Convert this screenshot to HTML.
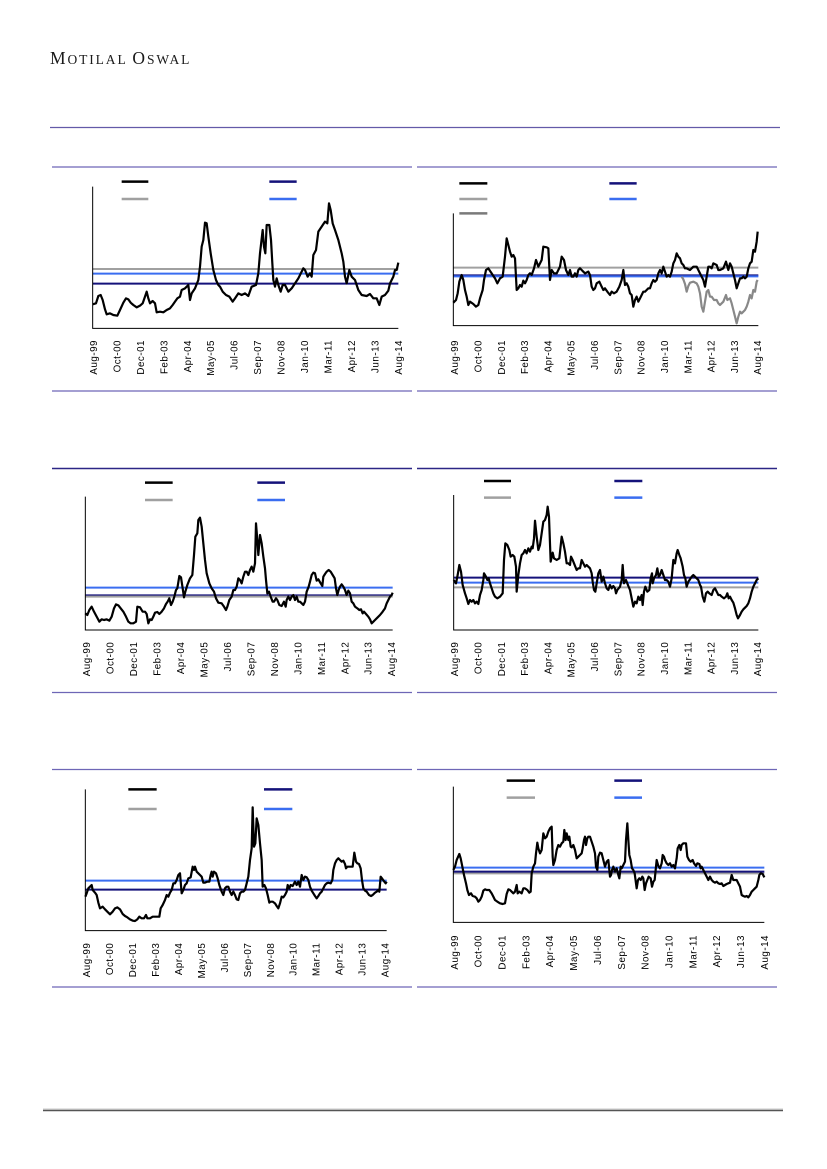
<!DOCTYPE html>
<html>
<head>
<meta charset="utf-8">
<style>
  html,body{margin:0;padding:0;background:#fff;}
  svg{display:block;}
  .lbl{font-family:"Liberation Sans",Arial,sans-serif;font-size:9.8px;letter-spacing:0.5px;fill:#000;}
  .ser{fill:none;stroke:#000;stroke-width:2.2;stroke-linejoin:round;}
  .ax{stroke:#000;stroke-width:1;fill:none;}
</style>
</head>
<body>
<svg width="827" height="1169" viewBox="0 0 827 1169" xmlns="http://www.w3.org/2000/svg">
  <rect x="0" y="0" width="827" height="1169" fill="#fff"/>

  <!-- Title -->
  <text x="50" y="64" font-family="'Liberation Serif','Times New Roman',serif" fill="#1a1a1a" letter-spacing="1.9"><tspan font-size="17.5">M</tspan><tspan font-size="13.5">OTILAL </tspan><tspan font-size="17.5">O</tspan><tspan font-size="13.5">SWAL</tspan></text>

  <!-- Section lines -->
  <line x1="50" y1="127.5" x2="780" y2="127.5" stroke="#635aa8" stroke-width="1.3"/>
  <g stroke="#6e66b6" stroke-width="1.3">
    <line x1="52" y1="167" x2="412" y2="167"/><line x1="417" y1="167" x2="777" y2="167"/>
    <line x1="52" y1="391" x2="412" y2="391"/><line x1="417" y1="391" x2="777" y2="391"/>
    <line x1="52" y1="692.5" x2="412" y2="692.5"/><line x1="417" y1="692.5" x2="777" y2="692.5"/>
    <line x1="52" y1="769.5" x2="412" y2="769.5"/><line x1="417" y1="769.5" x2="777" y2="769.5"/>
    <line x1="52" y1="987" x2="412" y2="987"/><line x1="417" y1="987" x2="777" y2="987"/>
  </g>
  <g stroke="#2c2686" stroke-width="1.4">
    <line x1="52" y1="468.5" x2="412" y2="468.5"/><line x1="417" y1="468.5" x2="777" y2="468.5"/>
  </g>
  <line x1="43" y1="1109" x2="783" y2="1109" stroke="#c8c8c8" stroke-width="1"/>
  <line x1="43" y1="1110.5" x2="783" y2="1110.5" stroke="#555" stroke-width="1.5"/>

  <!-- ================= CHART 1 ================= -->
  <g transform="translate(40 170) scale(0.333333)">
    <line x1="158" y1="297" x2="1075" y2="297" stroke="#a0a0a0" stroke-width="2" vector-effect="non-scaling-stroke"/>
    <line x1="158" y1="311" x2="1075" y2="311" stroke="#3a6df0" stroke-width="2" vector-effect="non-scaling-stroke"/>
    <line x1="158" y1="341" x2="1075" y2="341" stroke="#14127a" stroke-width="2" vector-effect="non-scaling-stroke"/>
    <polyline class="ser" vector-effect="non-scaling-stroke" points="158,403 168,400 175,378 182,375 188,390 195,418 200,433 210,430 220,435 232,437 240,420 250,398 258,385 265,388 272,398 280,405 290,412 300,407 308,400 315,380 320,365 325,385 330,400 338,393 345,400 350,427 360,425 370,427 380,420 390,415 398,405 405,395 412,385 420,380 425,360 435,355 445,345 450,390 455,370 465,355 475,330 480,290 485,230 490,210 495,158 500,160 505,200 512,250 520,300 528,330 535,345 540,350 548,365 558,375 568,380 578,395 585,385 595,370 605,375 615,370 625,378 635,350 648,345 655,310 660,250 668,180 672,230 676,250 680,165 688,165 693,210 697,280 700,330 705,350 710,325 715,345 722,365 728,345 735,345 745,365 755,355 765,340 775,325 785,305 790,295 795,300 803,320 810,310 815,320 820,255 828,240 835,185 845,170 855,155 862,160 867,100 872,120 878,160 885,180 895,210 905,250 910,275 915,320 920,340 928,300 935,320 945,330 955,360 965,375 980,378 990,372 1000,385 1010,385 1018,405 1025,380 1035,375 1045,362 1050,340 1060,320 1065,300 1070,300 1075,278"/>
    <polyline class="ax" vector-effect="non-scaling-stroke" points="158,50 158,475 1075,475"/>
    <line x1="245" y1="35" x2="325" y2="35" stroke="#000" stroke-width="2.5" vector-effect="non-scaling-stroke"/>
    <line x1="245" y1="87" x2="325" y2="87" stroke="#a0a0a0" stroke-width="2.5" vector-effect="non-scaling-stroke"/>
    <line x1="688" y1="35" x2="770" y2="35" stroke="#14127a" stroke-width="2.5" vector-effect="non-scaling-stroke"/>
    <line x1="688" y1="87" x2="770" y2="87" stroke="#3a6df0" stroke-width="2.5" vector-effect="non-scaling-stroke"/>
  </g>
  <g class="lbl" transform="translate(0 340) rotate(-90)" text-anchor="end">
    <text x="0" y="97">Aug-99</text><text x="0" y="120.4">Oct-00</text><text x="0" y="143.9">Dec-01</text><text x="0" y="167.3">Feb-03</text><text x="0" y="190.8">Apr-04</text><text x="0" y="214.2">May-05</text><text x="0" y="237.7">Jul-06</text><text x="0" y="261.1">Sep-07</text><text x="0" y="284.6">Nov-08</text><text x="0" y="308">Jan-10</text><text x="0" y="331.4">Mar-11</text><text x="0" y="354.9">Apr-12</text><text x="0" y="378.3">Jun-13</text><text x="0" y="401.8">Aug-14</text>
  </g>

  <!-- ================= CHART 2 ================= -->
  <g transform="translate(410 160) scale(0.333333)">
    <line x1="130" y1="323" x2="1045" y2="323" stroke="#a0a0a0" stroke-width="2" vector-effect="non-scaling-stroke"/>
    <line x1="130" y1="346" x2="1045" y2="346" stroke="#14127a" stroke-width="2" vector-effect="non-scaling-stroke"/>
    <line x1="130" y1="349" x2="1045" y2="349" stroke="#3a6df0" stroke-width="2" vector-effect="non-scaling-stroke"/>
    <polyline class="ser" style="stroke:#888" vector-effect="non-scaling-stroke" points="815,350 820,358 825,372 830,395 835,378 840,368 850,365 860,370 865,380 870,400 875,440 880,455 885,425 890,395 895,390 900,410 905,410 912,420 920,420 925,430 930,435 935,430 940,425 948,405 952,420 960,415 965,430 970,450 975,470 980,490 985,470 990,455 995,460 1000,455 1005,450 1010,440 1015,425 1020,405 1025,415 1030,390 1035,395 1040,365 1043,360"/>
    <polyline class="ser" vector-effect="non-scaling-stroke" points="130,428 138,420 143,400 148,365 155,345 160,360 165,390 170,410 175,435 180,425 190,432 198,440 205,435 210,415 218,390 222,360 228,330 235,325 245,340 255,355 262,370 270,355 278,350 285,290 290,235 295,255 300,275 305,290 310,285 315,295 320,390 325,385 330,375 335,380 340,362 345,370 350,360 355,345 360,340 365,345 372,325 378,300 385,320 390,310 395,300 400,260 410,262 415,265 420,360 425,330 432,340 440,340 450,320 455,290 462,300 468,330 475,345 480,330 485,350 490,350 495,340 500,350 505,330 510,325 515,330 520,335 525,340 535,335 540,345 545,380 550,390 555,385 560,370 568,365 575,380 580,390 585,385 592,395 600,405 605,395 612,400 620,395 628,380 635,360 640,330 645,375 650,370 655,380 660,400 665,405 670,440 675,420 680,410 685,425 690,415 695,405 700,395 705,395 710,390 715,385 720,385 725,370 730,360 735,365 740,360 745,340 750,330 755,340 760,320 765,335 770,350 775,345 780,350 785,335 790,310 795,300 800,280 805,290 810,295 815,310 820,315 825,325 830,325 840,330 850,320 860,320 865,330 870,340 875,350 880,360 885,380 890,350 895,320 900,320 905,325 910,310 920,315 925,330 930,330 940,325 948,305 955,330 960,310 965,320 970,340 975,360 980,385 985,370 990,355 995,355 1000,350 1005,355 1010,350 1015,325 1020,310 1025,305 1030,270 1035,275 1040,245 1043,215"/>
    <polyline class="ax" vector-effect="non-scaling-stroke" points="130,160 130,497 1045,497"/>
    <line x1="148" y1="70" x2="232" y2="70" stroke="#000" stroke-width="2.5" vector-effect="non-scaling-stroke"/>
    <line x1="148" y1="117" x2="232" y2="117" stroke="#a0a0a0" stroke-width="2.5" vector-effect="non-scaling-stroke"/>
    <line x1="148" y1="160" x2="232" y2="160" stroke="#7a7a7a" stroke-width="2.5" vector-effect="non-scaling-stroke"/>
    <line x1="598" y1="70" x2="680" y2="70" stroke="#14127a" stroke-width="2.5" vector-effect="non-scaling-stroke"/>
    <line x1="598" y1="117" x2="680" y2="117" stroke="#3a6df0" stroke-width="2.5" vector-effect="non-scaling-stroke"/>
  </g>
  <g class="lbl" transform="translate(0 340) rotate(-90)" text-anchor="end">
    <text x="0" y="458.2">Aug-99</text><text x="0" y="481.5">Oct-00</text><text x="0" y="504.8">Dec-01</text><text x="0" y="528.1">Feb-03</text><text x="0" y="551.4">Apr-04</text><text x="0" y="574.7">May-05</text><text x="0" y="598">Jul-06</text><text x="0" y="621.4">Sep-07</text><text x="0" y="644.7">Nov-08</text><text x="0" y="668">Jan-10</text><text x="0" y="691.3">Mar-11</text><text x="0" y="714.6">Apr-12</text><text x="0" y="737.9">Jun-13</text><text x="0" y="761.2">Aug-14</text>
  </g>

  <!-- ================= CHART 3 ================= -->
  <g transform="translate(40 460) scale(0.333333)">
    <line x1="136" y1="406" x2="1058" y2="406" stroke="#14127a" stroke-width="2" vector-effect="non-scaling-stroke"/>
    <line x1="136" y1="410" x2="1058" y2="410" stroke="#a0a0a0" stroke-width="2" vector-effect="non-scaling-stroke"/>
    <line x1="136" y1="383" x2="1058" y2="383" stroke="#3a6df0" stroke-width="2" vector-effect="non-scaling-stroke"/>
    <polyline class="ser" vector-effect="non-scaling-stroke" points="136,460 142,465 148,450 155,440 162,455 170,470 178,485 185,478 192,480 200,478 208,482 215,470 222,445 228,433 235,436 242,445 250,455 258,470 265,485 272,490 280,490 288,485 292,440 300,442 308,455 315,455 320,462 325,490 330,478 335,480 340,470 345,458 352,456 358,462 365,455 372,445 378,432 383,425 388,415 393,435 398,425 403,410 408,390 412,385 418,348 423,352 428,385 432,412 436,395 442,375 450,355 457,345 462,285 466,230 472,220 475,180 480,173 485,200 490,250 495,300 500,340 508,370 515,385 522,395 528,415 535,428 545,430 552,440 558,450 562,440 568,420 575,410 580,390 585,390 590,380 595,355 600,360 605,370 610,350 615,335 620,335 625,345 630,330 635,320 640,335 645,310 648,190 652,240 655,285 660,225 665,250 670,290 675,325 678,360 682,400 687,395 692,410 698,425 702,425 708,415 712,420 718,435 725,438 732,425 737,440 740,420 745,410 750,420 755,410 760,405 765,420 770,410 775,425 780,425 785,430 790,435 795,425 800,395 806,380 810,365 815,345 820,338 825,340 830,362 835,358 842,370 847,378 850,350 855,342 860,335 866,330 872,335 878,345 884,355 888,385 892,405 896,390 900,380 905,373 910,380 915,390 920,405 925,392 930,400 935,425 940,430 945,440 952,445 958,450 963,448 968,460 972,455 978,462 985,470 990,478 995,490 1000,485 1005,480 1012,473 1020,465 1028,455 1035,445 1040,430 1045,420 1050,410 1055,405 1058,398"/>
    <polyline class="ax" vector-effect="non-scaling-stroke" points="136,110 136,510 1058,510"/>
    <line x1="315" y1="68" x2="398" y2="68" stroke="#000" stroke-width="2.5" vector-effect="non-scaling-stroke"/>
    <line x1="315" y1="120" x2="398" y2="120" stroke="#a0a0a0" stroke-width="2.5" vector-effect="non-scaling-stroke"/>
    <line x1="652" y1="68" x2="735" y2="68" stroke="#14127a" stroke-width="2.5" vector-effect="non-scaling-stroke"/>
    <line x1="652" y1="120" x2="735" y2="120" stroke="#3a6df0" stroke-width="2.5" vector-effect="non-scaling-stroke"/>
  </g>
  <g class="lbl" transform="translate(0 641.7) rotate(-90)" text-anchor="end">
    <text x="0" y="90.2">Aug-99</text><text x="0" y="113.7">Oct-00</text><text x="0" y="137.1">Dec-01</text><text x="0" y="160.6">Feb-03</text><text x="0" y="184">Apr-04</text><text x="0" y="207.5">May-05</text><text x="0" y="231">Jul-06</text><text x="0" y="254.4">Sep-07</text><text x="0" y="277.9">Nov-08</text><text x="0" y="301.3">Jan-10</text><text x="0" y="324.8">Mar-11</text><text x="0" y="348.3">Apr-12</text><text x="0" y="371.7">Jun-13</text><text x="0" y="395.2">Aug-14</text>
  </g>

  <!-- ================= CHART 4 ================= -->
  <g transform="translate(410 460) scale(0.333333)">
    <line x1="131" y1="382" x2="1045" y2="382" stroke="#a0a0a0" stroke-width="2" vector-effect="non-scaling-stroke"/>
    <line x1="131" y1="368" x2="1045" y2="368" stroke="#3a6df0" stroke-width="2" vector-effect="non-scaling-stroke"/>
    <line x1="131" y1="353" x2="1045" y2="353" stroke="#14127a" stroke-width="2" vector-effect="non-scaling-stroke"/>
    <polyline class="ser" vector-effect="non-scaling-stroke" points="131,360 138,370 143,345 148,315 153,335 158,375 165,400 170,415 175,432 180,420 185,425 190,420 195,430 200,425 205,432 210,405 215,390 220,360 222,340 228,350 232,360 236,355 240,370 245,385 250,400 255,410 262,415 270,410 278,400 282,300 286,250 292,255 298,270 302,290 308,285 313,290 318,320 320,395 325,345 330,310 335,285 340,280 345,270 350,280 355,265 360,275 365,260 368,265 372,235 375,182 380,230 385,270 390,255 395,220 400,185 405,180 410,165 413,140 417,170 422,305 428,278 432,295 440,300 448,295 455,230 460,250 465,275 470,310 475,310 480,315 483,290 488,300 492,310 496,320 500,330 505,325 510,325 515,300 520,310 525,320 530,315 535,320 540,325 545,340 548,365 552,390 556,395 560,370 565,340 570,330 575,365 580,350 585,370 590,385 595,390 600,375 605,385 610,378 615,385 618,400 622,390 626,385 630,380 635,360 638,315 642,370 648,360 655,378 660,390 665,415 670,440 675,425 680,430 685,410 690,420 695,405 698,435 702,395 706,380 712,395 718,390 722,355 726,340 728,370 732,355 738,345 742,325 746,350 750,345 755,330 760,345 765,360 770,360 775,365 780,380 785,355 790,300 795,310 800,280 803,270 808,285 812,295 818,320 822,345 826,355 830,380 835,365 840,358 845,350 850,345 855,350 860,355 865,360 870,375 873,380 878,410 883,425 888,400 893,395 898,400 905,405 910,390 915,385 920,395 925,405 930,405 935,410 942,415 948,410 952,400 956,415 960,410 965,420 970,428 975,445 980,465 984,475 990,465 995,455 1000,448 1005,443 1010,438 1015,430 1020,415 1025,395 1030,380 1035,370 1040,360 1045,355"/>
    <polyline class="ax" vector-effect="non-scaling-stroke" points="131,105 131,510 1045,510"/>
    <line x1="222" y1="63" x2="303" y2="63" stroke="#000" stroke-width="2.5" vector-effect="non-scaling-stroke"/>
    <line x1="222" y1="113" x2="303" y2="113" stroke="#a0a0a0" stroke-width="2.5" vector-effect="non-scaling-stroke"/>
    <line x1="613" y1="63" x2="697" y2="63" stroke="#14127a" stroke-width="2.5" vector-effect="non-scaling-stroke"/>
    <line x1="613" y1="113" x2="697" y2="113" stroke="#3a6df0" stroke-width="2.5" vector-effect="non-scaling-stroke"/>
  </g>
  <g class="lbl" transform="translate(0 641.7) rotate(-90)" text-anchor="end">
    <text x="0" y="458.2">Aug-99</text><text x="0" y="481.5">Oct-00</text><text x="0" y="504.8">Dec-01</text><text x="0" y="528.1">Feb-03</text><text x="0" y="551.4">Apr-04</text><text x="0" y="574.7">May-05</text><text x="0" y="598">Jul-06</text><text x="0" y="621.4">Sep-07</text><text x="0" y="644.7">Nov-08</text><text x="0" y="668">Jan-10</text><text x="0" y="691.3">Mar-11</text><text x="0" y="714.6">Apr-12</text><text x="0" y="737.9">Jun-13</text><text x="0" y="761.2">Aug-14</text>
  </g>

  <!-- ================= CHART 5 ================= -->
  <g transform="translate(40 760) scale(0.333333)">
    <line x1="136" y1="389" x2="1040" y2="389" stroke="#14127a" stroke-width="2" vector-effect="non-scaling-stroke"/>
    <line x1="136" y1="362" x2="1040" y2="362" stroke="#3a6df0" stroke-width="2" vector-effect="non-scaling-stroke"/>
    <polyline class="ser" vector-effect="non-scaling-stroke" points="136,410 140,400 145,385 150,380 155,375 158,390 165,398 170,405 175,428 180,445 188,440 195,448 202,455 210,463 218,455 225,445 232,442 240,448 248,462 255,468 262,472 270,478 278,482 285,483 292,478 298,470 305,475 312,475 318,465 322,475 330,475 338,470 345,470 352,470 358,470 362,445 368,435 375,420 380,405 385,410 390,398 395,390 400,370 405,370 410,360 415,345 420,340 425,400 430,390 435,375 440,370 445,355 452,352 458,320 462,330 465,320 470,335 475,340 480,345 485,350 490,368 495,368 502,365 508,365 512,345 515,335 518,350 522,335 528,340 533,355 538,375 545,395 550,405 555,385 560,380 565,380 570,395 575,405 580,395 585,405 590,418 595,420 600,400 605,395 610,395 615,390 620,370 625,350 630,300 635,265 638,142 642,260 646,250 650,175 655,195 660,250 665,300 668,380 673,375 678,385 683,405 688,428 692,425 698,425 705,430 710,438 715,445 720,430 725,410 730,412 735,405 740,395 743,375 748,385 752,375 758,378 765,365 770,375 775,365 780,380 785,345 790,360 795,350 800,352 805,360 810,380 815,392 820,400 825,408 830,415 835,408 840,400 845,395 850,385 855,375 860,370 865,368 872,370 877,360 880,330 885,310 890,300 895,295 900,300 905,305 910,302 915,312 918,325 922,320 930,320 938,320 943,278 948,305 952,310 957,312 962,325 966,360 970,385 975,392 980,395 987,405 993,408 998,405 1005,398 1010,395 1015,390 1018,395 1022,350 1028,358 1033,365 1037,370 1040,365"/>
    <polyline class="ax" vector-effect="non-scaling-stroke" points="136,88 136,512 1040,512"/>
    <line x1="265" y1="88" x2="350" y2="88" stroke="#000" stroke-width="2.5" vector-effect="non-scaling-stroke"/>
    <line x1="265" y1="147" x2="350" y2="147" stroke="#a0a0a0" stroke-width="2.5" vector-effect="non-scaling-stroke"/>
    <line x1="672" y1="88" x2="757" y2="88" stroke="#14127a" stroke-width="2.5" vector-effect="non-scaling-stroke"/>
    <line x1="672" y1="147" x2="757" y2="147" stroke="#3a6df0" stroke-width="2.5" vector-effect="non-scaling-stroke"/>
  </g>
  <g class="lbl" transform="translate(0 942.7) rotate(-90)" text-anchor="end">
    <text x="0" y="90.2">Aug-99</text><text x="0" y="113.1">Oct-00</text><text x="0" y="136.1">Dec-01</text><text x="0" y="159">Feb-03</text><text x="0" y="182">Apr-04</text><text x="0" y="204.9">May-05</text><text x="0" y="227.9">Jul-06</text><text x="0" y="250.8">Sep-07</text><text x="0" y="273.8">Nov-08</text><text x="0" y="296.7">Jan-10</text><text x="0" y="319.7">Mar-11</text><text x="0" y="342.6">Apr-12</text><text x="0" y="365.6">Jun-13</text><text x="0" y="388.5">Aug-14</text>
  </g>

  <!-- ================= CHART 6 ================= -->
  <g transform="translate(410 760) scale(0.333333)">
    <line x1="130" y1="340" x2="1063" y2="340" stroke="#a0a0a0" stroke-width="2" vector-effect="non-scaling-stroke"/>
    <line x1="130" y1="335" x2="1063" y2="335" stroke="#14127a" stroke-width="2" vector-effect="non-scaling-stroke"/>
    <line x1="130" y1="323" x2="1063" y2="323" stroke="#3a6df0" stroke-width="2" vector-effect="non-scaling-stroke"/>
    <polyline class="ser" vector-effect="non-scaling-stroke" points="130,330 135,320 140,300 148,282 152,295 158,325 162,345 168,370 172,390 177,405 183,400 188,408 195,410 200,415 205,425 210,420 215,410 220,392 225,388 230,390 238,390 245,400 250,410 255,420 262,425 270,430 278,432 285,430 290,402 295,388 300,390 305,395 310,400 315,395 320,375 323,400 328,395 335,400 340,385 345,385 352,390 358,398 362,395 365,340 370,320 375,310 378,280 382,248 385,265 390,280 395,270 400,220 405,235 410,230 415,215 420,205 425,200 428,290 430,315 435,300 440,270 445,255 450,260 455,250 460,245 463,210 467,240 470,220 475,240 478,230 482,260 485,262 490,255 495,270 500,295 505,290 510,285 515,280 518,265 522,240 525,230 528,255 532,235 535,230 540,230 545,245 550,260 555,280 558,320 562,330 565,290 570,278 575,280 580,300 585,320 590,305 595,300 600,350 603,345 606,330 610,320 615,335 620,325 625,345 628,355 632,320 635,325 640,315 645,305 648,240 652,190 655,240 658,285 662,300 666,325 670,330 674,340 680,385 684,360 688,355 692,360 697,350 700,355 704,390 708,370 712,360 716,350 722,355 726,380 730,365 734,360 738,320 740,300 745,318 750,325 755,310 758,285 762,290 765,300 770,310 775,315 780,310 785,320 790,315 795,325 800,295 803,265 808,255 812,270 815,255 820,250 828,250 832,290 837,300 842,305 848,300 852,310 858,318 862,310 868,312 872,325 875,320 880,330 885,340 890,350 895,360 900,350 905,360 910,365 915,368 920,365 925,370 930,372 935,370 940,378 945,375 950,372 955,370 960,368 965,345 970,360 975,360 980,360 985,370 990,380 995,405 1000,408 1005,410 1010,408 1015,412 1020,405 1025,395 1030,390 1035,385 1040,380 1045,360 1048,345 1052,340 1058,342 1063,352"/>
    <polyline class="ax" vector-effect="non-scaling-stroke" points="130,80 130,487 1063,487"/>
    <line x1="290" y1="62" x2="375" y2="62" stroke="#000" stroke-width="2.5" vector-effect="non-scaling-stroke"/>
    <line x1="290" y1="113" x2="375" y2="113" stroke="#a0a0a0" stroke-width="2.5" vector-effect="non-scaling-stroke"/>
    <line x1="613" y1="62" x2="696" y2="62" stroke="#14127a" stroke-width="2.5" vector-effect="non-scaling-stroke"/>
    <line x1="613" y1="113" x2="696" y2="113" stroke="#3a6df0" stroke-width="2.5" vector-effect="non-scaling-stroke"/>
  </g>
  <g class="lbl" transform="translate(0 935) rotate(-90)" text-anchor="end">
    <text x="0" y="457.8">Aug-99</text><text x="0" y="481.6">Oct-00</text><text x="0" y="505.5">Dec-01</text><text x="0" y="529.4">Feb-03</text><text x="0" y="553.2">Apr-04</text><text x="0" y="577.1">May-05</text><text x="0" y="600.9">Jul-06</text><text x="0" y="624.8">Sep-07</text><text x="0" y="648.6">Nov-08</text><text x="0" y="672.5">Jan-10</text><text x="0" y="696.3">Mar-11</text><text x="0" y="720.2">Apr-12</text><text x="0" y="744">Jun-13</text><text x="0" y="767.8">Aug-14</text>
  </g>
</svg>
</body>
</html>
